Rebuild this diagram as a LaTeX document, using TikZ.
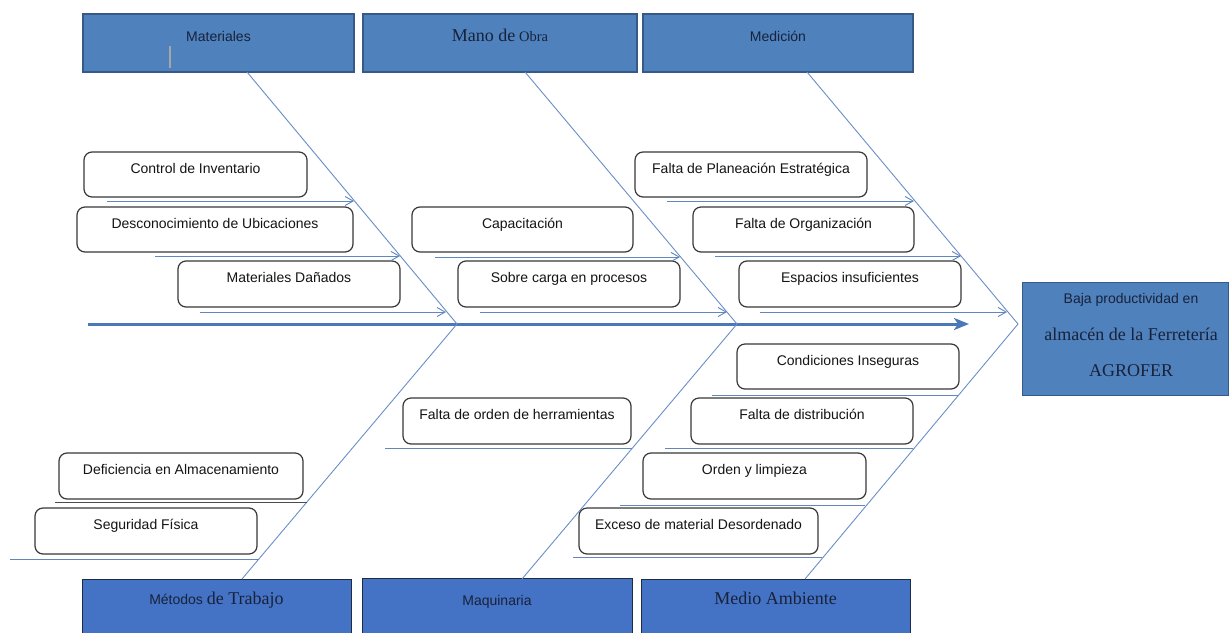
\documentclass[tikz,border=0pt]{standalone}
\usepackage{fontspec}
\setmainfont{Liberation Serif}
\setsansfont{Liberation Sans}
\usetikzlibrary{arrows.meta}

\definecolor{boneblue}{HTML}{6A8FC6}
\definecolor{feedblue}{HTML}{5F87C2}
\definecolor{spineblue}{HTML}{4A78B8}
\definecolor{topfill}{HTML}{4F81BD}
\definecolor{topdraw}{HTML}{365A88}
\definecolor{botfill}{HTML}{4472C4}
\definecolor{botdraw}{HTML}{1E2B45}
\definecolor{labelink}{HTML}{18223A}
\definecolor{boxdraw}{HTML}{383838}

\newcommand{\serifbig}{\rmfamily\fontsize{18}{20}\selectfont}
\newcommand{\serifmid}{\rmfamily\fontsize{14.5}{17}\selectfont}

\begin{document}
\begin{tikzpicture}[x=1pt,y=-1pt,
  cause/.style={draw=boxdraw, line width=1.2pt, rounded corners=8pt, fill=white,
    inner xsep=0pt, inner ysep=0pt, text height=21pt, text depth=24pt,
    font=\sffamily\fontsize{14}{16}\selectfont, text=black!92},
  topcat/.style={draw=topdraw, line width=1.8pt, fill=topfill, minimum width=271pt,
    inner ysep=0pt, text height=27pt, text depth=31pt,
    font=\sffamily\fontsize{14}{16}\selectfont, text=labelink},
  botcat/.style={draw=botdraw, line width=1pt, fill=botfill, minimum width=269pt,
    inner ysep=0pt, text depth=37pt,
    font=\sffamily\fontsize{14}{16}\selectfont, text=labelink},
  effect/.style={draw=topdraw, line width=1.8pt, fill=topfill,
    minimum width=206pt, minimum height=113pt, inner sep=0pt},
  effline/.style={anchor=base, inner sep=0pt, text=labelink},
  bone/.style={draw=boneblue, line width=0.9pt},
  feeder/.style={draw=feedblue, line width=1pt,
    -{Straight Barb[length=8pt,width=9pt,line width=0.9pt]}},
  underline/.style={draw=feedblue!85!gray, line width=1pt},
  spine/.style={draw=spineblue, line width=3pt,
    -{Stealth[length=15pt,width=12pt,inset=4pt]}}
]
\clip (0,0) rectangle (1230,632);
\fill[white] (0,0) rectangle (1230,632);

% ---- category boxes, top row
\node[topcat] (mat) at (218.5,43) {Materiales};
\node[topcat, minimum width=274pt] (mob) at (500,43) {{\serifbig Mano de} {\serifmid Obra}};
\node[topcat, minimum width=270pt] (med) at (778,43) {Medición};
\draw[gray!70, line width=1.2pt] (170,46) -- (170,68);

% ---- category boxes, bottom row
\node[botcat, text height=25pt] (met) at (216.5,610) {Métodos {\serifbig de Trabajo}};
\node[botcat, text height=27pt, minimum width=270pt] (maq) at (497,610) {Maquinaria};
\node[botcat, text height=25pt] (amb) at (775.5,610) {{\serifbig Medio Ambiente}};

% ---- effect box
\node[effect] (eff) at (1125.5,339) {};
\node[effline, font=\sffamily\fontsize{14}{16}\selectfont] (eff1) at (1131,303) {Baja productividad en};
\node[effline, font=\serifbig] (eff2) at (1131,340) {almacén de la Ferretería};
\node[effline, font=\serifbig] (eff3) at (1131,376) {AGROFER};

% ---- spine
\coordinate (spine-s) at (88,324);
\coordinate (spine-e) at (969,324);
\draw[spine] (spine-s) -- (spine-e);

% ---- bones
\coordinate (mat-top) at (247,72);
\coordinate (mat-head) at (457,324);
\coordinate (mob-top) at (525,72);
\coordinate (mob-head) at (737,324);
\coordinate (med-top) at (807,72);
\coordinate (med-head) at (1018,324);
\coordinate (met-foot) at (242,579);
\coordinate (maq-foot) at (522,579);
\coordinate (amb-foot) at (805,579);
\draw[bone] (mat-top) -- (mat-head) -- (met-foot);
\draw[bone] (mob-top) -- (mob-head) -- (maq-foot);
\draw[bone] (med-top) -- (med-head) -- (amb-foot);

% ---- causes: Materiales
\node[cause, minimum width=223pt] (ci) at (195.5,174.5) {Control de Inventario};
\node[cause, minimum width=276pt] (du) at (215,229.5) {Desconocimiento de Ubicaciones};
\node[cause, minimum width=222pt, text depth=25pt] (mdn) at (289,284) {Materiales Dañados};
\coordinate (ci-s) at (107,201);   \coordinate (ci-e) at (354,201);
\coordinate (du-s) at (155,256);   \coordinate (du-e) at (400,256);
\coordinate (mdn-s) at (200,312);  \coordinate (mdn-e) at (446,312);
\draw[feeder] (ci-s) -- (ci-e);
\draw[feeder] (du-s) -- (du-e);
\draw[feeder] (mdn-s) -- (mdn-e);

% ---- causes: Mano de Obra
\node[cause, minimum width=221pt] (cap) at (522.5,229.5) {Capacitación};
\node[cause, minimum width=222pt, text depth=25pt] (sc) at (569,284) {Sobre carga en procesos};
\coordinate (cap-s) at (435,257);  \coordinate (cap-e) at (680,257);
\coordinate (sc-s) at (480,312);   \coordinate (sc-e) at (727,312);
\draw[feeder] (cap-s) -- (cap-e);
\draw[feeder] (sc-s) -- (sc-e);

% ---- causes: Medición
\node[cause, minimum width=232pt] (fp) at (751,174.5) {Falta de Planeación Estratégica};
\node[cause, minimum width=221pt] (fo) at (803.5,229.5) {Falta de Organización};
\node[cause, minimum width=222pt, text depth=25pt] (ei) at (850,284) {Espacios insuficientes};
\coordinate (fp-s) at (667,201);   \coordinate (fp-e) at (914,201);
\coordinate (fo-s) at (715,256);   \coordinate (fo-e) at (961,256);
\coordinate (ei-s) at (760,312);   \coordinate (ei-e) at (1007,312);
\draw[feeder] (fp-s) -- (fp-e);
\draw[feeder] (fo-s) -- (fo-e);
\draw[feeder] (ei-s) -- (ei-e);

% ---- causes: Métodos de Trabajo
\node[cause, minimum width=244pt, text depth=25pt] (def) at (181,476) {Deficiencia en Almacenamiento};
\node[cause, minimum width=222pt, text depth=25pt] (seg) at (146,531) {Seguridad Física};
\coordinate (def-s) at (55,502);   \coordinate (def-e) at (307,502);
\coordinate (seg-s) at (10,559);   \coordinate (seg-e) at (259,559);
\draw[underline, draw=black!70] (def-s) -- (def-e);
\draw[underline] (seg-s) -- (seg-e);

% ---- causes: Maquinaria
\node[cause, minimum width=228pt, text depth=25pt] (foh) at (517,421) {Falta de orden de herramientas};
\coordinate (foh-s) at (385,448);  \coordinate (foh-e) at (632,448);
\draw[underline] (foh-s) -- (foh-e);

% ---- causes: Medio Ambiente
\node[cause, minimum width=222pt] (cin) at (848,366.5) {Condiciones Inseguras};
\node[cause, minimum width=222pt, text depth=25pt] (fd) at (802,421) {Falta de distribución};
\node[cause, minimum width=223pt, text depth=25pt] (oyl) at (754.5,476) {Orden y limpieza};
\node[cause, minimum width=239pt, text depth=25pt] (exc) at (698.5,531) {Exceso de material Desordenado};
\coordinate (cin-s) at (712,395);  \coordinate (cin-e) at (958,395);
\coordinate (fd-s) at (665,448);   \coordinate (fd-e) at (913,448);
\coordinate (oyl-s) at (620,505);  \coordinate (oyl-e) at (865,505);
\coordinate (exc-s) at (573,557);  \coordinate (exc-e) at (822,557);
\draw[underline] (cin-s) -- (cin-e);
\draw[underline] (fd-s) -- (fd-e);
\draw[underline] (oyl-s) -- (oyl-e);
\draw[underline] (exc-s) -- (exc-e);
\end{tikzpicture}
\end{document}
